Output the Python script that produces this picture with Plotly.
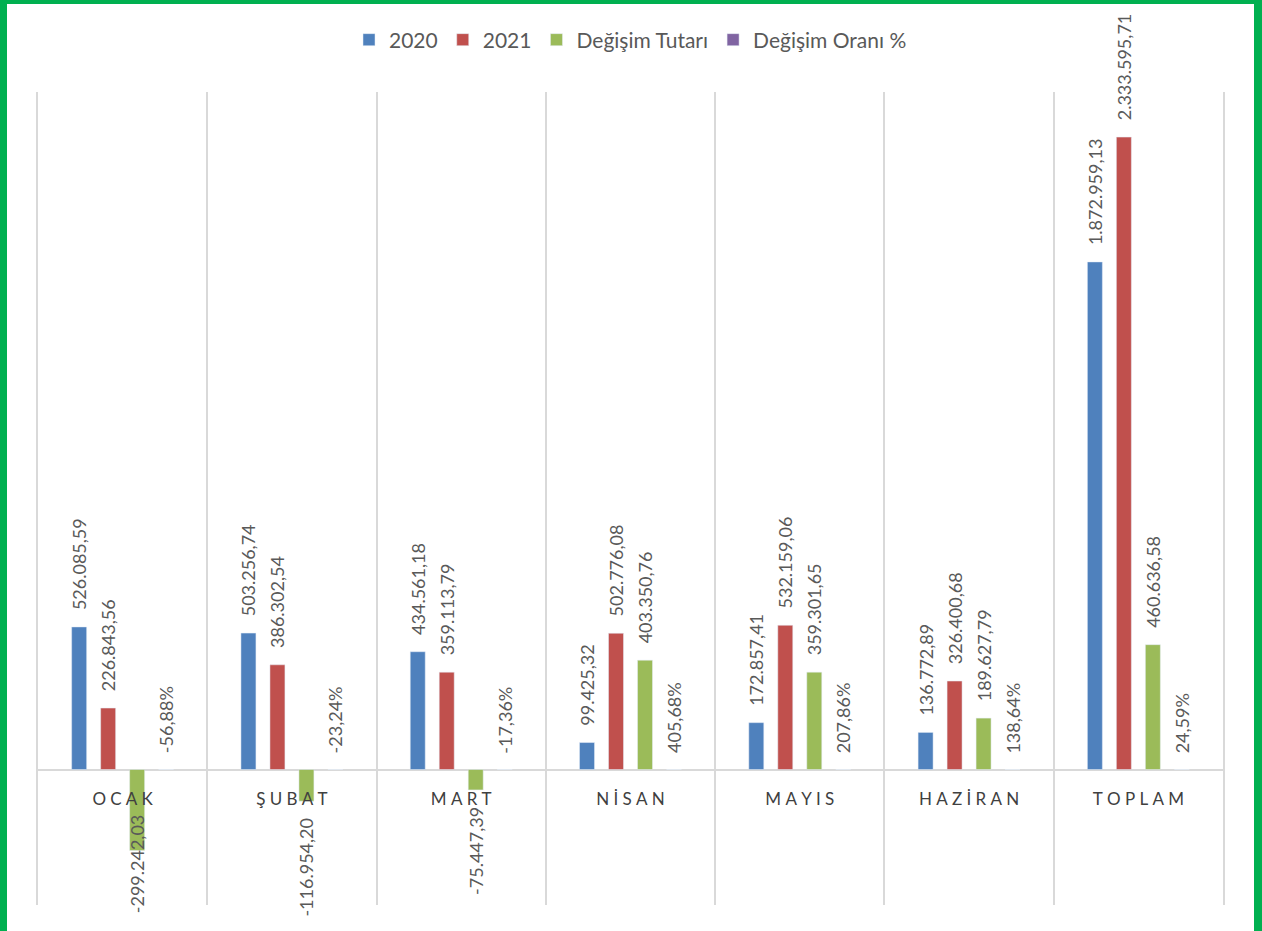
import plotly.graph_objects as go

categories = ["OCAK", "ŞUBAT", "MART", "NİSAN", "MAYIS", "HAZİRAN", "TOPLAM"]
v2020 = [526085.59, 503256.74, 434561.18, 99425.32, 172857.41, 136772.89, 1872959.13]
v2021 = [226843.56, 386302.54, 359113.79, 502776.08, 532159.06, 326400.68, 2333595.71]
tutar = [-299242.03, -116954.20, -75447.39, 403350.76, 359301.65, 189627.79, 460636.58]
oran_pct = [-56.88, -23.24, -17.36, 405.68, 207.86, 138.64, 24.59]


def tr_num(v):
    s = f"{v:,.2f}"
    return s.replace(",", "X").replace(".", ",").replace("X", ".")


def tr_pct(v):
    return f"{v:.2f}".replace(".", ",") + "%"


def spaced(s):
    return "\u2005".join(list(s))


PAD = "\u00a0\u00a0\u00a0"


def bar_label(v):
    # padding on the side facing the bar end
    return PAD + tr_num(v) if v >= 0 else tr_num(v) + PAD


cat_labels = [spaced(c) for c in categories]

FONT_FAMILY = "Lato, 'Open Sans', sans-serif"
LABEL_FONT = dict(family=FONT_FAMILY, size=18, color="#595959")

# lowest visible data-label position inside the chart (pixels above bar end)
L, R, T, B = 38, 39, 92, 26
W, H = 1262, 931

fig = go.Figure()
series = [
    ("2020", v2020, "#4F81BD"),
    ("2021", v2021, "#C0504D"),
    ("Değişim Tutarı", tutar, "#9BBB59"),
]
y_min, y_max = -500000, 2500000
ph = H - T - B
for name, vals, col in series:
    texts = []
    for v in vals:
        # labels that would run off the bottom of the chart are placed as annotations
        below_px = -v / (y_max - y_min) * ph
        texts.append("" if below_px > 60 else bar_label(v))
    fig.add_trace(go.Bar(
        name=name, x=cat_labels, y=vals, marker_color=col,
        text=texts, textposition="outside",
        textangle=-90, textfont=LABEL_FONT, cliponaxis=False,
        constraintext="none",
    ))

fig.add_trace(go.Bar(
    name="Değişim Oranı %", x=cat_labels, y=[p / 100 for p in oran_pct],
    marker_color="#8064A2",
))

# clamped label(s) for deep negative bars (kept inside the chart like the original)
for c, v in zip(cat_labels, tutar):
    below_px = -v / (y_max - y_min) * ph
    if below_px > 60:
        fig.add_annotation(
            x=c, y=v, xref="x", yref="y", text=tr_num(v), showarrow=False,
            textangle=-90, font=LABEL_FONT, xanchor="center", yanchor="top",
            xshift=14.5, yshift=38,
        )

for c, p in zip(cat_labels, oran_pct):
    fig.add_annotation(
        x=c, y=0, xref="x", yref="y", text=tr_pct(p), showarrow=False,
        textangle=-90, font=LABEL_FONT, xanchor="center", yanchor="bottom",
        xshift=43.5, yshift=14,
    )

pw = W - L - R


def px_x(px):
    return (px - L) / pw


def px_y(py):
    return 1 + (T - py) / ph


green = "#00B050"
fig.add_shape(type="rect", xref="paper", yref="paper", x0=px_x(0), x1=px_x(7),
              y0=px_y(H), y1=px_y(0), fillcolor=green, line_width=0, layer="above")
fig.add_shape(type="rect", xref="paper", yref="paper", x0=px_x(1254), x1=px_x(W),
              y0=px_y(H), y1=px_y(0), fillcolor=green, line_width=0, layer="above")
fig.add_shape(type="rect", xref="paper", yref="paper", x0=px_x(0), x1=px_x(W),
              y0=px_y(4), y1=px_y(0), fillcolor=green, line_width=0, layer="above")

fig.update_layout(
    width=W, height=H,
    margin=dict(l=L, r=R, t=T, b=B),
    paper_bgcolor="white", plot_bgcolor="white",
    barmode="group", bargap=0.315, bargroupgap=0.483,
    font=dict(family=FONT_FAMILY, color="#595959"),
    showlegend=True,
    legend=dict(orientation="h", x=0.5, xanchor="center", y=px_y(40), yanchor="middle",
                font=dict(size=21, color="#595959"), traceorder="normal",
                itemwidth=30),
    xaxis=dict(
        type="category", tickson="boundaries", showgrid=True, gridcolor="#D9D9D9",
        gridwidth=1.5, ticks="", anchor="free", position=1 / 6,
        tickfont=dict(family=FONT_FAMILY, size=17, color="#404040"),
        ticklabelstandoff=17, showline=False, zeroline=False,
    ),
    yaxis=dict(
        range=[y_min, y_max], showgrid=False, showticklabels=False,
        zeroline=True, zerolinecolor="#D9D9D9", zerolinewidth=1.5, ticks="",
        showline=True, mirror=True, linecolor="#D9D9D9", linewidth=1.5,
    ),
)

fig.write_html("out.html", config={"displayModeBar": False},
               post_script="document.body.style.margin='0';")
